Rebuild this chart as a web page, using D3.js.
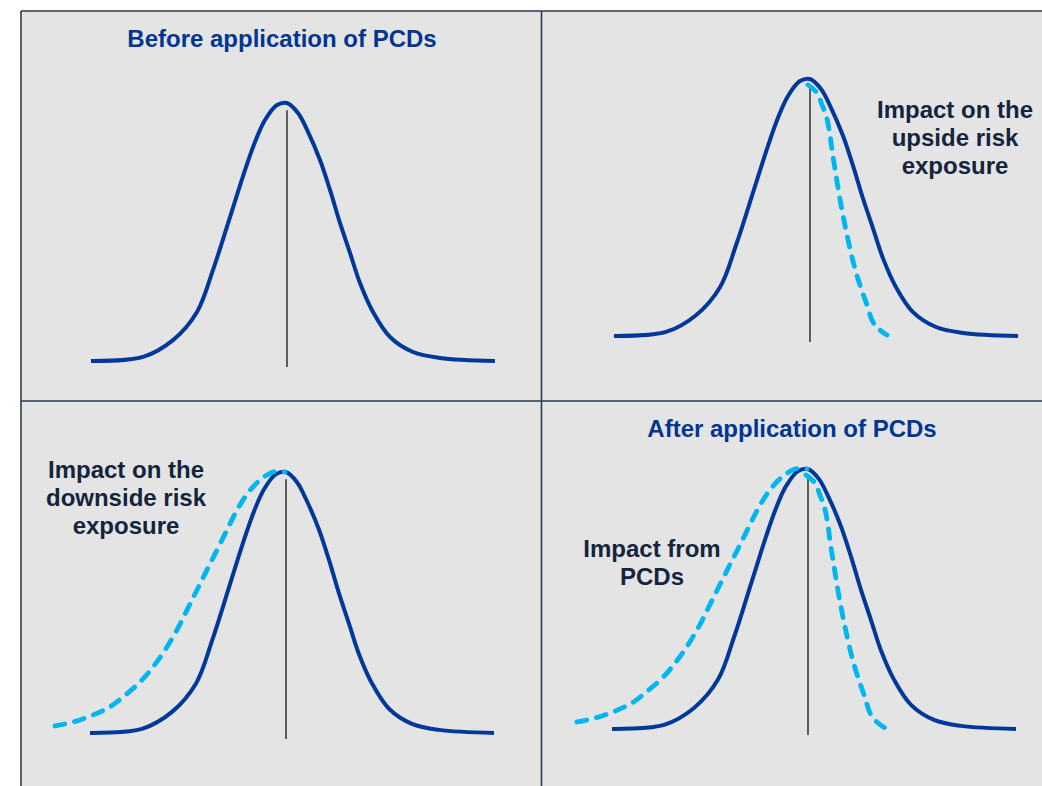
<!DOCTYPE html>
<html>
<head>
<meta charset="utf-8">
<script src="https://cdn.jsdelivr.net/npm/d3@7"></script>
<style>
  html, body { margin: 0; padding: 0; background: #ffffff; }
  svg { display: block; }
  text { font-family: "Liberation Sans", Arial, sans-serif; font-weight: bold; }
</style>
</head>
<body>
<svg id="chart" width="1042" height="786"></svg>
<script>
// ---------- data (x in curve units, y as relative density 0..1) ----------
const baseX = [-3.92, -2.88, -2.28, -1.8, -1.48, -1.14, -0.84, -0.64, -0.44, -0.2, 0, 0.22, 0.42, 0.66, 0.86, 1.06, 1.26, 1.46, 1.72, 2.06, 2.52, 3.06, 4.16];
const baseY = [0, 0.016, 0.081, 0.19, 0.353, 0.558, 0.74, 0.849, 0.934, 0.992, 1, 0.961, 0.888, 0.779, 0.663, 0.535, 0.419, 0.302, 0.19, 0.093, 0.035, 0.012, 0];

const upsideX = [-0.04, 0.14, 0.24, 0.32, 0.4, 0.44, 0.52, 0.62, 0.74, 0.88, 1.0, 1.12, 1.26, 1.4, 1.54];
const upsideY = [0.977, 0.946, 0.899, 0.86, 0.782, 0.724, 0.626, 0.51, 0.393, 0.276, 0.198, 0.132, 0.054, 0.023, 0.004];

const downsideX = [-4.62, -4.26, -3.86, -3.52, -3.26, -2.92, -2.66, -2.42, -2.18, -1.98, -1.78, -1.58, -1.38, -1.18, -0.98, -0.76, -0.52, -0.26, -0.02];
const downsideY = [0.027, 0.042, 0.069, 0.1, 0.138, 0.195, 0.253, 0.318, 0.395, 0.471, 0.548, 0.625, 0.701, 0.778, 0.854, 0.92, 0.969, 1, 1];

const meanLine = [-0.023, 0.972];

const panelTitles = ["Before application of PCDs", "", "", "After application of PCDs"];
const panelNotes = [[], ["Impact on the", "upside risk", "exposure"], ["Impact on the", "downside risk", "exposure"], ["Impact from", "PCDs"]];
const panelDashed = [[], ["upside"], ["downside"], ["downside", "upside"]];

// ---------- layout ----------
const layout = [
  { cx: 287, by: 361, h: 258, titleX: 282, titleY: 47, noteX: 0, noteY: 0 },
  { cx: 810, by: 336, h: 257, titleX: 0, titleY: 0, noteX: 955, noteY: 118 },
  { cx: 286, by: 733, h: 261, titleX: 0, titleY: 0, noteX: 126, noteY: 478 },
  { cx: 808, by: 729, h: 260, titleX: 792, titleY: 437, noteX: 652, noteY: 557 }
];

const svg = d3.select("#chart");
const frameColor = "#2b3a4c";
const solidColor = "#00389a";
const dashColor = "#00b6f0";
const noteColor = "#14253d";

svg.append("rect").attr("x", 21).attr("y", 11).attr("width", 1042 - 21).attr("height", 786 - 11).attr("fill", "#e4e4e4");

const frame = svg.append("g").attr("stroke", frameColor).attr("stroke-width", 1.6);
frame.append("line").attr("x1", 21).attr("x2", 1042).attr("y1", 11).attr("y2", 11);
frame.append("line").attr("x1", 21).attr("x2", 21).attr("y1", 11).attr("y2", 786);
frame.append("line").attr("x1", 541.5).attr("x2", 541.5).attr("y1", 11).attr("y2", 786);
frame.append("line").attr("x1", 21).attr("x2", 1042).attr("y1", 401).attr("y2", 401);

const series = {
  base: baseX.map((x, i) => [x, baseY[i]]),
  upside: upsideX.map((x, i) => [x, upsideY[i]]),
  downside: downsideX.map((x, i) => [x, downsideY[i]])
};

layout.forEach((p, i) => {
  const x = d3.scaleLinear().domain([0, 1]).range([p.cx, p.cx + 50]);
  const y = d3.scaleLinear().domain([0, 1]).range([p.by, p.by - p.h]);
  const line = d3.line().x(d => x(d[0])).y(d => y(d[1])).curve(d3.curveCatmullRom.alpha(0.5));
  const g = svg.append("g");

  g.append("line")
    .attr("x1", x(0)).attr("x2", x(0))
    .attr("y1", y(meanLine[0])).attr("y2", y(meanLine[1]))
    .attr("stroke", "#3a3a3a").attr("stroke-width", 1.6);

  g.append("path").datum(series.base).attr("d", line)
    .attr("fill", "none").attr("stroke", solidColor).attr("stroke-width", 4)
    .attr("stroke-linejoin", "round");

  panelDashed[i].forEach(key => {
    g.append("path").datum(series[key]).attr("d", line)
      .attr("fill", "none").attr("stroke", dashColor).attr("stroke-width", 4.8)
      .attr("stroke-linecap", "round").attr("stroke-linejoin", "round")
      .attr("stroke-dasharray", "10,10");
  });

  if (panelTitles[i]) {
    g.append("text").attr("x", p.titleX).attr("y", p.titleY)
      .attr("text-anchor", "middle").attr("font-size", 24)
      .attr("fill", "#003591").text(panelTitles[i]);
  }
  panelNotes[i].forEach((t, k) => {
    g.append("text").attr("x", p.noteX).attr("y", p.noteY + k * 28)
      .attr("text-anchor", "middle").attr("font-size", 24)
      .attr("fill", noteColor).text(t);
  });
});
</script>
</body>
</html>
